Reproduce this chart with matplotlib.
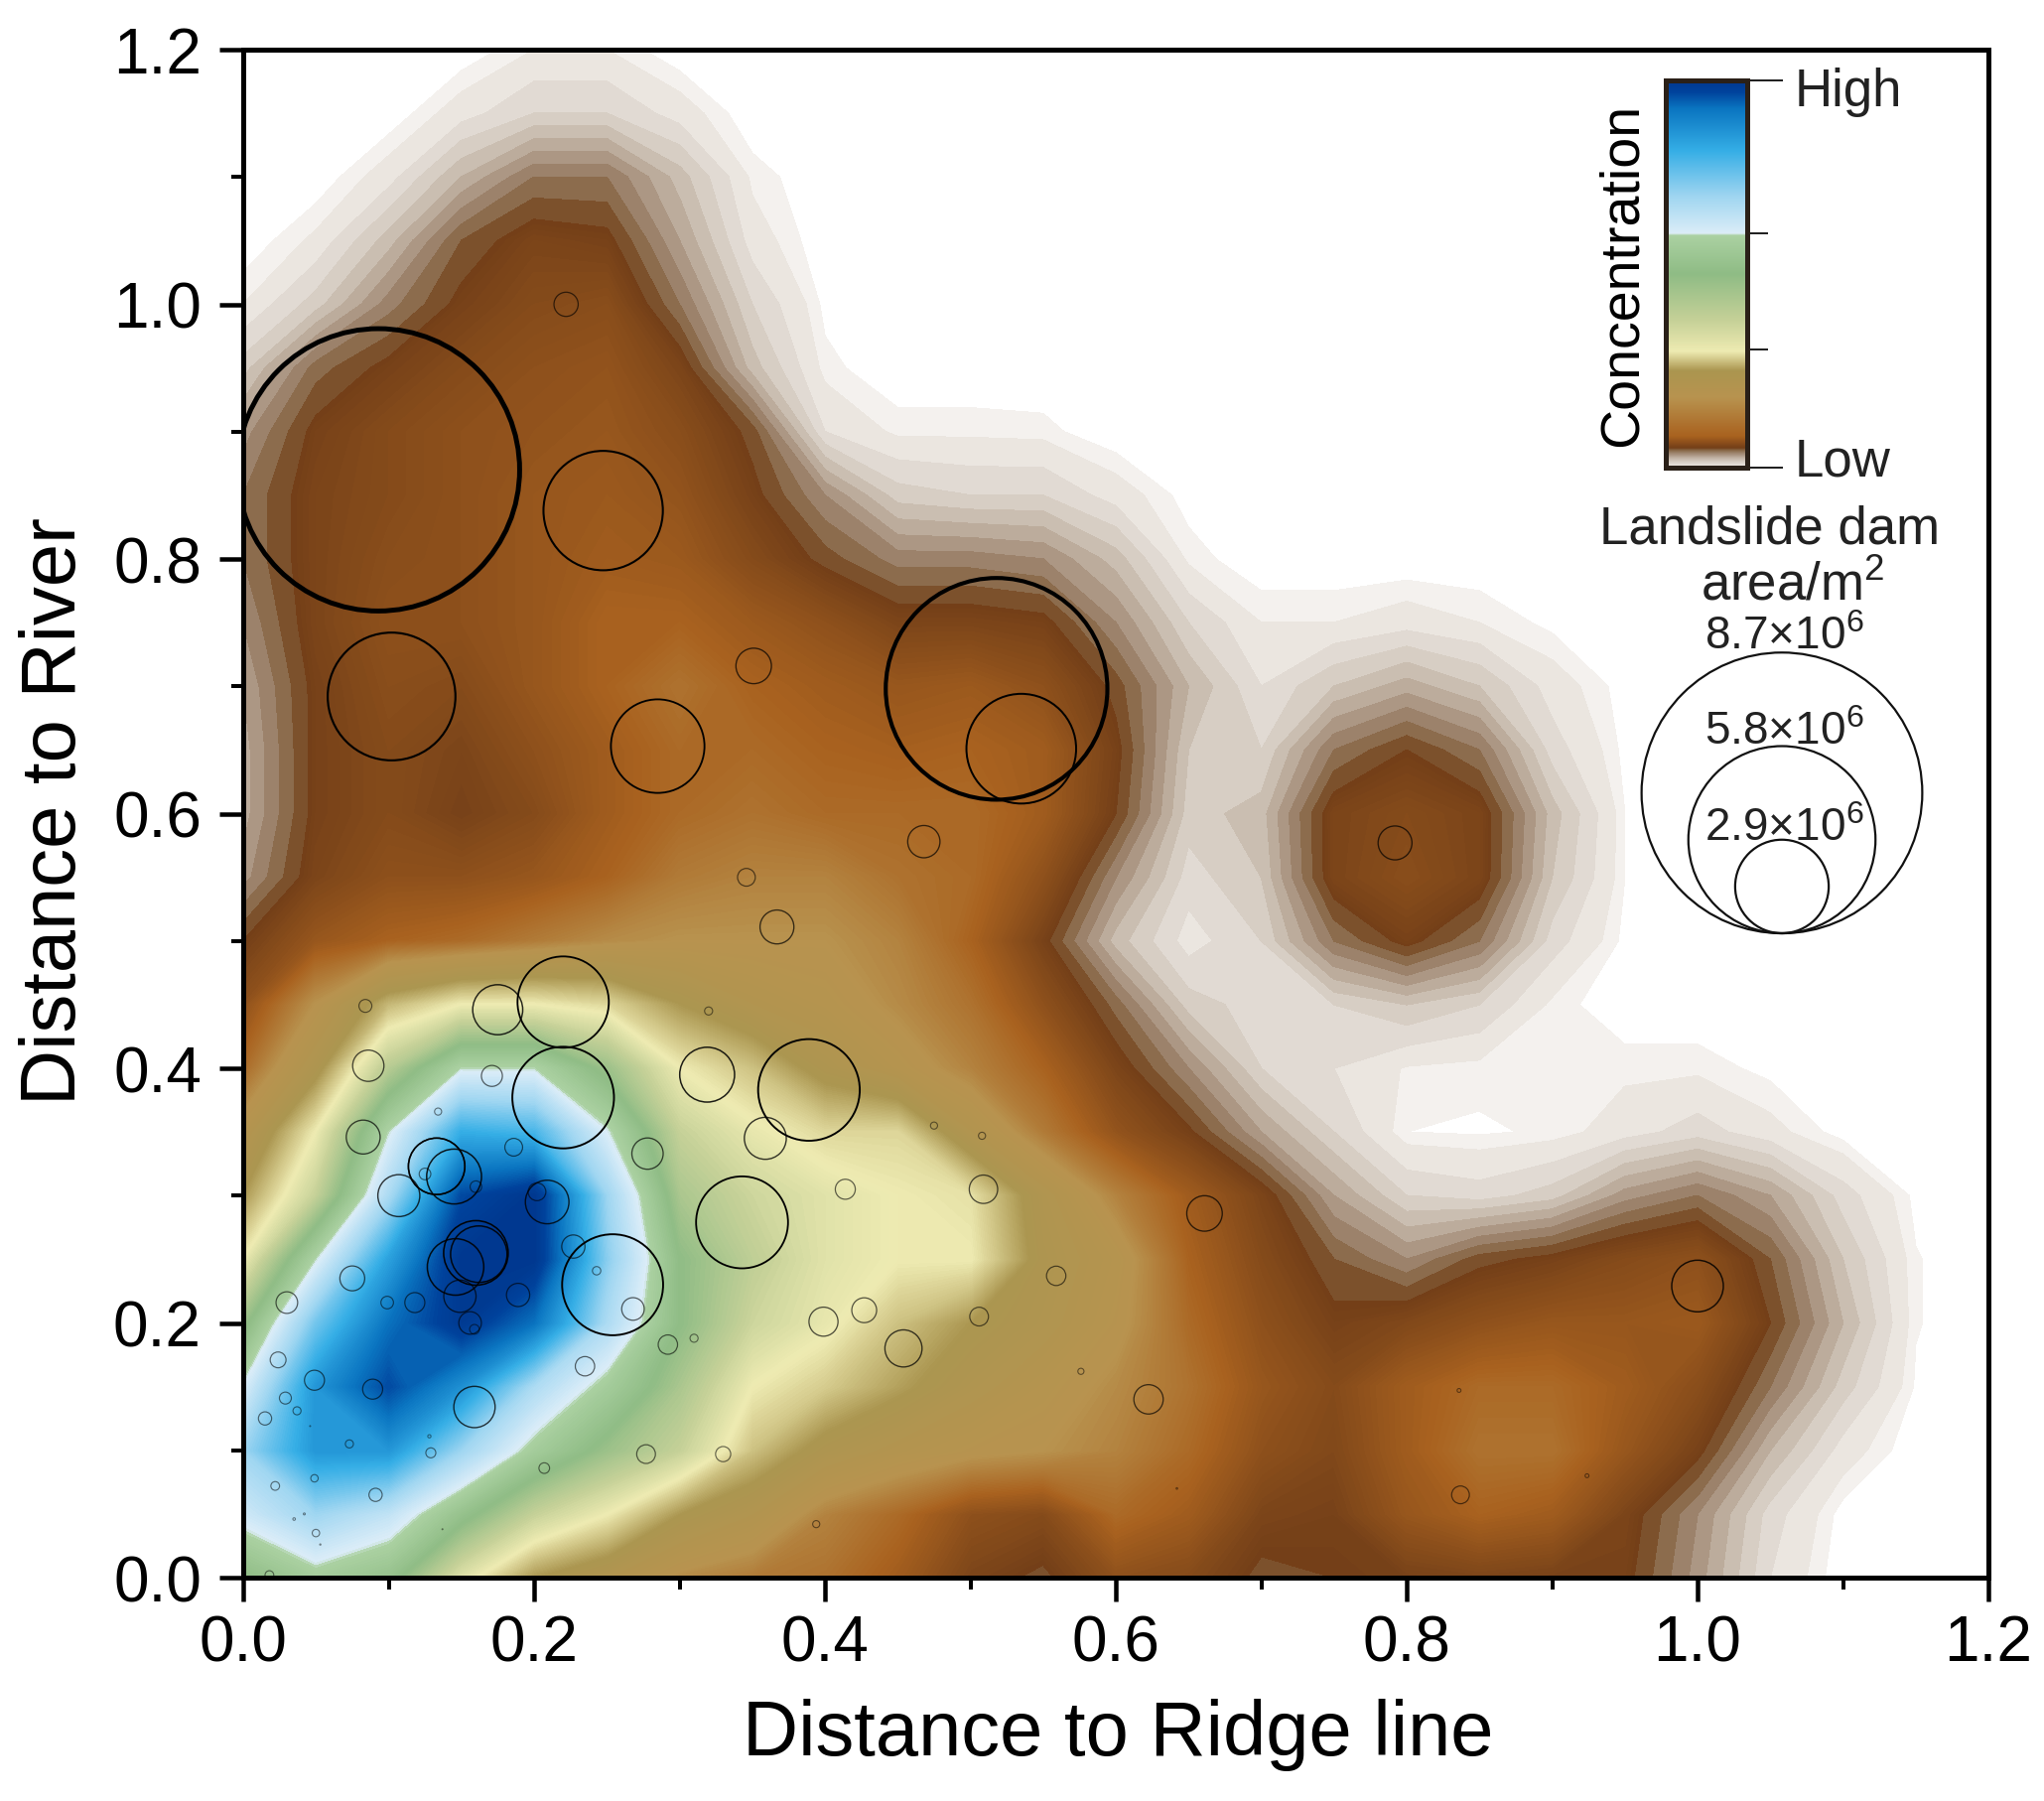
"""
Landslide dam concentration map with bubble sizes for dam area
"""

import matplotlib.pyplot as plt
import numpy as np
from matplotlib.colors import LinearSegmentedColormap, Normalize

plt.rcParams['font.family'] = ['Liberation Sans', 'DejaVu Sans']
plt.rcParams['mathtext.default'] = 'regular'

# -------------------- DATA --------------------
grid_x = [0.00, 0.05, 0.10, 0.15, 0.20, 0.25, 0.30, 0.35, 0.40, 0.45, 0.50, 0.55, 0.60,
          0.65, 0.70, 0.75, 0.80, 0.85, 0.90, 0.95, 1.00, 1.05, 1.10, 1.15, 1.20]
grid_y = [0.00, 0.05, 0.10, 0.15, 0.20, 0.25, 0.30, 0.35, 0.40, 0.45, 0.50, 0.55, 0.60,
          0.65, 0.70, 0.75, 0.80, 0.85, 0.90, 0.95, 1.00, 1.05, 1.10, 1.15, 1.20]

# concentration, one row per grid_y value
concentration = [
    [52, 58, 54, 40, 30, 26, 21, 19, 18, 15, 11, 9.5, 13, 12, 9.5, 10, 10.5, 11, 10.5, 10.5, 6.5, 2, 0, 0, 0],
    [63, 70, 65, 54, 44, 38, 30, 26, 20, 17, 13, 12, 17, 15, 11, 10.5, 14, 16, 15, 11, 7, 2.5, 0.2, 0, 0],
    [70, 84, 84, 70, 58, 50, 44, 34, 28, 25, 23, 22, 20, 17, 13, 11.5, 15, 18, 18, 14, 10.5, 5, 1.5, 0, 0],
    [61, 84, 95, 85, 68, 58, 48, 38, 35, 31, 27, 24, 21, 18, 14, 12, 15, 17, 17, 15, 12.5, 8, 3.5, 0.4, 0],
    [50, 74, 90, 99, 90, 68, 52, 43, 39, 34, 30, 27, 23, 17, 13, 10.5, 11.5, 13, 14, 14, 14.5, 10, 5, 0.55, 0],
    [38, 60, 82, 100, 100, 72, 52, 45, 40, 38, 38, 28, 24, 16, 12, 9, 7, 9.5, 10.5, 12, 13, 9, 4, 0.55, 0],
    [30, 44, 68, 95, 100, 70, 48, 43, 40, 38, 37, 27, 20, 15, 11, 6, 3, 2.5, 3.5, 6.5, 8, 6, 2.5, 0.3, 0],
    [24, 38, 60, 80, 78, 61, 44, 39, 36, 36, 26, 19, 13.5, 10.3, 6, 3, 0.5, 0.4, 0.6, 1.5, 2.5, 1.3, 0.2, 0, 0],
    [17, 28, 46, 60, 60, 50, 38, 34, 28, 24, 20, 16, 11, 7, 3, 2, 0.9, 0.7, 0.7, 0.8, 0.8, 0.3, 0, 0, 0],
    [13, 22, 33, 38, 38, 36, 30, 26, 24, 21, 18, 13, 8.5, 3.5, 2.5, 3, 4, 3, 0.8, 0, 0, 0, 0, 0, 0],
    [10, 14, 16, 17, 19, 21, 22, 22, 22, 20, 16, 10.5, 4.5, 1.5, 3, 8, 10.5, 8, 2.5, 0.3, 0, 0, 0, 0, 0],
    [6.5, 11, 13, 13, 14, 16, 19, 20, 20, 18, 17, 13, 7, 2.5, 4, 11, 12.5, 11, 4, 0.5, 0, 0, 0, 0, 0],
    [5.5, 10.5, 12, 10.5, 12, 15, 17, 18, 17, 17, 17, 15, 10, 3.5, 4.5, 11, 12, 11, 4.5, 0.5, 0, 0, 0, 0, 0],
    [5.5, 10.5, 12, 11, 13, 15, 17, 17, 16, 15.5, 16, 15, 10.5, 4, 3, 8, 10, 8, 2.5, 0.3, 0, 0, 0, 0, 0],
    [6, 10.5, 12.5, 12, 14, 16, 18, 16, 15, 14, 14.5, 13, 9.5, 5, 2, 4, 5.5, 4, 1.5, 0.2, 0, 0, 0, 0, 0],
    [7, 11, 13, 13, 14, 16, 16, 14.5, 13, 11, 11, 10.5, 7, 3, 1, 1, 1.5, 1, 0.3, 0, 0, 0, 0, 0, 0],
    [8, 11, 12.5, 13, 14, 15, 14.5, 12, 9.5, 7.5, 7.5, 7, 4.5, 0.8, 0, 0, 0, 0, 0, 0, 0, 0, 0, 0, 0],
    [8, 11, 12, 13, 14, 14.5, 13.5, 10.5, 7, 3.5, 3, 3, 1.5, 0.2, 0, 0, 0, 0, 0, 0, 0, 0, 0, 0, 0],
    [6.5, 10.5, 12, 13, 13.5, 14, 12.5, 9.5, 2, 0.8, 0.8, 0.7, 0, 0, 0, 0, 0, 0, 0, 0, 0, 0, 0, 0, 0],
    [3.5, 8.5, 10.5, 12, 13, 13.5, 11, 4.5, 0.7, 0, 0, 0, 0, 0, 0, 0, 0, 0, 0, 0, 0, 0, 0, 0, 0],
    [1, 3.5, 7.5, 10.5, 12, 12.5, 8, 3, 0.3, 0, 0, 0, 0, 0, 0, 0, 0, 0, 0, 0, 0, 0, 0, 0, 0],
    [0, 1.2, 4.5, 9, 11, 10.5, 6, 1.5, 0, 0, 0, 0, 0, 0, 0, 0, 0, 0, 0, 0, 0, 0, 0, 0, 0],
    [0, 0, 1.5, 5, 8, 8, 4.5, 0.8, 0, 0, 0, 0, 0, 0, 0, 0, 0, 0, 0, 0, 0, 0, 0, 0, 0],
    [0, 0, 0, 1.5, 3, 3, 1.5, 0, 0, 0, 0, 0, 0, 0, 0, 0, 0, 0, 0, 0, 0, 0, 0, 0, 0],
    [0, 0, 0, 0, 1, 1, 0, 0, 0, 0, 0, 0, 0, 0, 0, 0, 0, 0, 0, 0, 0, 0, 0, 0, 0],
]

# landslide dams: distance to ridge line, distance to river, area in 1e6 m2
dam_x = [0.093, 0.2475, 0.102, 0.285, 0.518, 0.535, 0.351, 0.222, 0.468, 0.792, 0.346, 0.367,
         0.22, 0.175, 0.084, 0.086, 0.171, 0.22, 0.32, 0.319, 0.389, 0.359, 0.278, 0.0825,
         0.134, 0.186, 0.133, 0.133, 0.145, 0.107, 0.209, 0.202, 0.343, 0.414, 0.475, 0.508,
         0.509, 0.661, 0.16, 0.162, 0.146, 0.149, 0.156, 0.159, 0.189, 0.118, 0.099, 0.075,
         0.03, 0.227, 0.243, 0.254, 0.268, 0.292, 0.31, 0.235, 0.16, 0.125, 0.024, 0.049,
         0.089, 0.029, 0.037, 0.015, 0.159, 0.128, 0.073, 0.129, 0.277, 0.33, 0.207, 0.049,
         0.022, 0.091, 0.035, 0.042, 0.05, 0.053, 0.018, 0.137, 0.046, 0.559, 0.427, 0.399,
         0.454, 0.506, 0.576, 0.6225, 0.394, 0.642, 0.837, 0.836, 0.924, 1.0]
dam_y = [0.87, 0.838, 0.692, 0.653, 0.698, 0.651, 0.716, 1.0, 0.578, 0.577, 0.55, 0.511,
         0.452, 0.446, 0.449, 0.402, 0.394, 0.377, 0.445, 0.395, 0.383, 0.345, 0.333, 0.346,
         0.366, 0.338, 0.323, 0.323, 0.315, 0.3, 0.295, 0.303, 0.279, 0.305, 0.355, 0.347,
         0.305, 0.286, 0.255, 0.254, 0.244, 0.221, 0.2, 0.195, 0.222, 0.216, 0.216, 0.235,
         0.216, 0.26, 0.241, 0.23, 0.211, 0.183, 0.188, 0.166, 0.307, 0.317, 0.171, 0.155,
         0.148, 0.141, 0.131, 0.125, 0.134, 0.111, 0.105, 0.098, 0.097, 0.097, 0.086, 0.078,
         0.072, 0.065, 0.046, 0.05, 0.035, 0.026, 0.002, 0.038, 0.119, 0.237, 0.21, 0.201,
         0.18, 0.205, 0.162, 0.14, 0.042, 0.07, 0.065, 0.147, 0.08, 0.229]
dam_area = [8.75, 3.7, 3.96, 2.9, 6.87, 3.4, 1.1, 0.75, 1.0, 1.05, 0.55, 1.05,
            2.83, 1.55, 0.4, 0.97, 0.65, 3.15, 0.25, 1.7, 3.15, 1.3, 0.97, 1.05,
            0.22, 0.55, 1.75, 1.75, 1.7, 1.3, 1.35, 0.55, 2.85, 0.62, 0.22, 0.22,
            0.88, 1.1, 2.0, 1.75, 1.75, 1.0, 0.7, 0.3, 0.72, 0.62, 0.39, 0.77,
            0.67, 0.72, 0.26, 3.13, 0.7, 0.6, 0.25, 0.6, 0.36, 0.36, 0.49, 0.62,
            0.62, 0.37, 0.25, 0.41, 1.28, 0.1, 0.25, 0.31, 0.58, 0.47, 0.33, 0.23,
            0.27, 0.41, 0.08, 0.06, 0.23, 0.04, 0.27, 0.03, 0.03, 0.6, 0.77, 0.9,
            1.15, 0.58, 0.19, 0.91, 0.22, 0.05, 0.55, 0.12, 0.12, 1.6]

legend_area = [8.7, 5.8, 2.9]
legend_label = ['8.7×10$^{6}$', '5.8×10$^{6}$', '2.9×10$^{6}$']
tick_values = [0.0, 0.2, 0.4, 0.6, 0.8, 1.0, 1.2]
minor_values = [0.1, 0.3, 0.5, 0.7, 0.9, 1.1]

# colour ramp on the 0-100 concentration scale
ramp_level = [0, 1, 3, 5, 7, 9, 10, 16, 22, 30, 38, 44, 52, 60, 61, 70, 80, 90, 96, 100]
ramp_color = ['#ffffff', '#efebe6', '#dcd4cc', '#c4b6a8', '#a38b77', '#84623f', '#733f18',
              '#a9621f', '#b8934f', '#ab9650', '#eeebb2', '#c6d198', '#8fbc85', '#abd1a2',
              '#dcedf8', '#a0d6f1', '#35aee6', '#0a74c0', '#00429c', '#00388f']
# position of the ramp levels along the colour bar (0 bottom, 1 top)
bar_fraction = [0, 0.04, 0.05, 0.08, 0.18, 0.25, 0.30, 0.38, 0.50, 0.60, 0.605, 0.70, 0.82, 0.93, 1.0]
bar_level = [1, 8, 10, 16, 22, 30, 38, 44, 52, 60, 61, 70, 80, 90, 100]

# -------------------- LAYOUT (pixels) --------------------
W, H = 2059, 1815
LEFT, RIGHT, TOP, BOTTOM = 245, 2003, 51, 1590
PX = 72 / 100  # points per pixel at dpi 100
DIAMETER_PER_AREA = 32.5  # pixels of circle diameter per 1e6 m2

# -------------------- PLOT --------------------
fig = plt.figure(figsize=(W / 100, H / 100), dpi=100, facecolor='white')
ax = fig.add_axes([LEFT / W, 1 - BOTTOM / H, (RIGHT - LEFT) / W, (BOTTOM - TOP) / H])

cmap = LinearSegmentedColormap.from_list(
    'dam', [(lev / 100, col) for lev, col in zip(ramp_level, ramp_color)], N=1024)
norm = Normalize(0, 100)
levels = [0.5, 1, 2, 3, 4, 5, 6, 7, 8, 9] + list(np.arange(10, 40, 0.25)) + list(np.arange(40, 100.5, 0.5))
filled = ax.contourf(grid_x, grid_y, np.array(concentration), levels=levels, cmap=cmap, norm=norm)
filled.set_edgecolor('face')
filled.set_linewidth(0.3)

areas = np.array(dam_area)
widths = np.where(areas > 5, 0.75 + 0.32 * areas, 0.75 + 0.2 * areas)
edge_alpha = np.clip(0.45 + 0.25 * areas, 0.45, 1.0)
edges = [(0, 0, 0, a) for a in edge_alpha]
ax.scatter(dam_x, dam_y, s=(DIAMETER_PER_AREA * areas * PX) ** 2, facecolors='none',
           edgecolors=edges, linewidths=widths, zorder=3)

ax.set_xlim(0, 1.2)
ax.set_ylim(0, 1.2)
ax.set_xticks(tick_values)
ax.set_yticks(tick_values)
ax.set_xticks(minor_values, minor=True)
ax.set_yticks(minor_values, minor=True)
ax.set_xticklabels([f'{t:.1f}' for t in tick_values])
ax.set_yticklabels([f'{t:.1f}' for t in tick_values])
ax.tick_params(which='major', direction='out', length=24 * PX, width=4.5 * PX, labelsize=46, pad=9)
ax.tick_params(axis='y', which='major', pad=13)
ax.tick_params(which='minor', direction='out', length=12 * PX, width=4 * PX)
for spine in ax.spines.values():
    spine.set_linewidth(5 * PX)

fig.text(1126 / W, 1 - 1748 / H, 'Distance to Ridge line', fontsize=56, ha='center', va='center')
fig.text(56 / W, 1 - 817 / H, 'Distance to River', fontsize=56, rotation=90, ha='center', va='center')

# -------------------- LEGEND --------------------
overlay = fig.add_axes([0, 0, 1, 1], facecolor='none')
overlay.set_xlim(0, W)
overlay.set_ylim(H, 0)
overlay.axis('off')

bar_ax = fig.add_axes([1678 / W, 1 - 472 / H, 82 / W, 390 / H])
fractions = np.linspace(0, 1, 500)
bar_values = np.interp(fractions, bar_fraction, bar_level)
bar_ax.imshow(bar_values[:, None], origin='lower', aspect='auto', cmap=cmap, norm=norm)
bar_ax.set_xticks([])
bar_ax.set_yticks([])
for spine in bar_ax.spines.values():
    spine.set_linewidth(5 * PX)
    spine.set_color('#2a2018')

for y, x_end in [(82, 1795), (236, 1780), (353, 1780), (472, 1795)]:
    overlay.plot([1760, x_end], [y, y], color='#222222', lw=2 * PX)

overlay.text(1808, 93, 'High', fontsize=38, ha='left', va='center', color='#222222')
overlay.text(1808, 465, 'Low', fontsize=38, ha='left', va='center', color='#222222')
overlay.text(1635, 277, 'Concentration', fontsize=40, rotation=90, ha='center', va='center',
             family=['Liberation Sans Narrow', 'Liberation Sans'])
overlay.text(1783, 533, 'Landslide dam', fontsize=38, ha='center', va='center', color='#222222')
overlay.text(1806, 590, 'area/m$^{2}$', fontsize=38, ha='center', va='center', color='#222222')

for area, label, label_y in zip(legend_area, legend_label, [642, 738, 835]):
    d = DIAMETER_PER_AREA * area
    overlay.scatter([1795], [941 - d / 2], s=(d * PX) ** 2, facecolors='none', edgecolors='#111111',
                    linewidths=2.2 * PX)
    overlay.text(1797, label_y, label, fontsize=33, ha='center', va='center', color='#222222')

plt.savefig('out.png', dpi=100)
